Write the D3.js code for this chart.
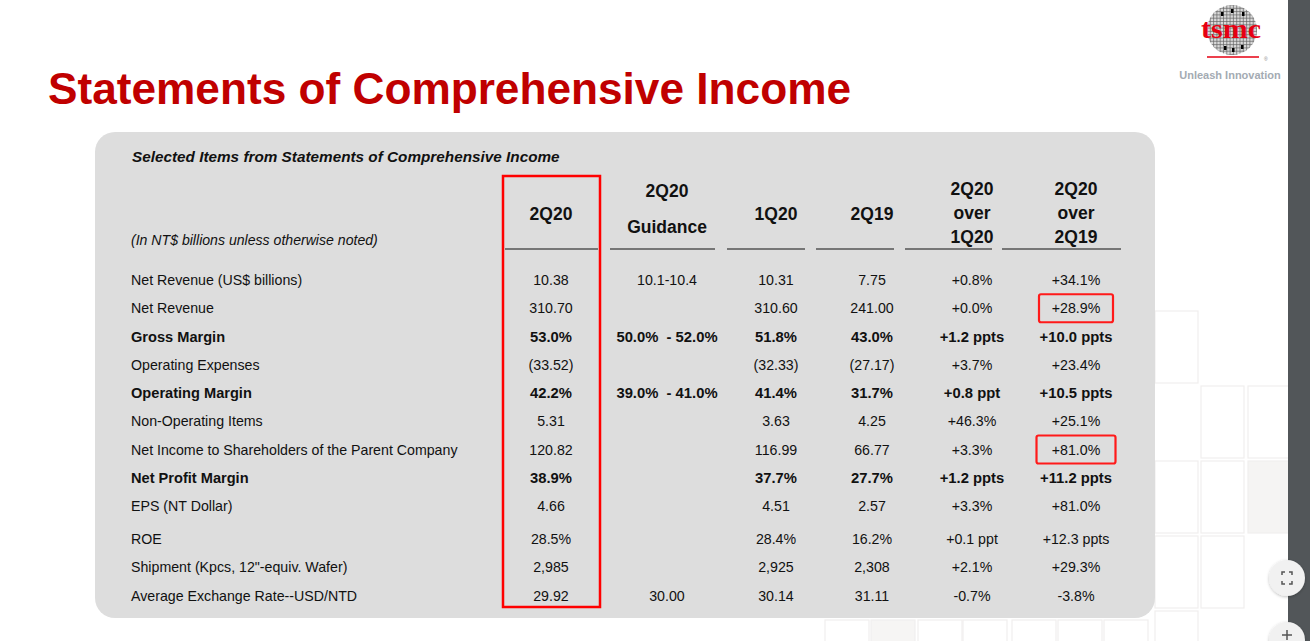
<!DOCTYPE html>
<html><head><meta charset="utf-8">
<script src="https://cdn.jsdelivr.net/npm/d3@7/dist/d3.min.js"></script>
<style>html,body{margin:0;padding:0;background:#fff;overflow:hidden}svg{display:block}</style>
</head><body>
<script>
// ---------- data ----------
const title = "Statements of Comprehensive Income";
const subtitle = "Selected Items from Statements of Comprehensive Income";
const unitNote = "(In NT$ billions unless otherwise noted)";
const columns = ["2Q20", "2Q20 Guidance", "1Q20", "2Q19", "2Q20 over 1Q20", "2Q20 over 2Q19"];
const rowLabels = ["Net Revenue (US$ billions)", "Net Revenue", "Gross Margin", "Operating Expenses",
  "Operating Margin", "Non-Operating Items", "Net Income to Shareholders of the Parent Company",
  "Net Profit Margin", "EPS (NT Dollar)", "ROE", "Shipment (Kpcs, 12\"-equiv. Wafer)",
  "Average Exchange Rate--USD/NTD"];
const boldRows = ["Gross Margin", "Operating Margin", "Net Profit Margin"];
const v2Q20 = ["10.38", "310.70", "53.0%", "(33.52)", "42.2%", "5.31", "120.82", "38.9%", "4.66", "28.5%", "2,985", "29.92"];
const vGuidance = ["10.1-10.4", "", "50.0%  - 52.0%", "", "39.0%  - 41.0%", "", "", "", "", "", "", "30.00"];
const v1Q20 = ["10.31", "310.60", "51.8%", "(32.33)", "41.4%", "3.63", "116.99", "37.7%", "4.51", "28.4%", "2,925", "30.14"];
const v2Q19 = ["7.75", "241.00", "43.0%", "(27.17)", "31.7%", "4.25", "66.77", "27.7%", "2.57", "16.2%", "2,308", "31.11"];
const vQoQ = ["+0.8%", "+0.0%", "+1.2 ppts", "+3.7%", "+0.8 ppt", "+46.3%", "+3.3%", "+1.2 ppts", "+3.3%", "+0.1 ppt", "+2.1%", "-0.7%"];
const vYoY = ["+34.1%", "+28.9%", "+10.0 ppts", "+23.4%", "+10.5 ppts", "+25.1%", "+81.0%", "+11.2 ppts", "+81.0%", "+12.3 ppts", "+29.3%", "-3.8%"];
const highlightedYoY = ["Net Revenue", "Net Income to Shareholders of the Parent Company"];
const headerLines = [["2Q20"], ["2Q20", "Guidance"], ["1Q20"], ["2Q19"], ["2Q20", "over", "1Q20"], ["2Q20", "over", "2Q19"]];
const seriesValues = [v2Q20, vGuidance, v1Q20, v2Q19, vQoQ, vYoY];

// ---------- layout ----------
const W = 1310, H = 641;
const FONT = "'Liberation Sans', Arial, sans-serif";
const RED = "#c00000";
const svg = d3.select("body").append("svg").attr("width", W).attr("height", H);
const defs = svg.append("defs");

// decorative faint squares in background
const deco = svg.append("g").attr("fill", "none").attr("stroke", "#f1efee").attr("stroke-width", 1.2);
const sqCols = [1155, 1201, 1248];
const sqRows = [311, 386, 461, 536, 611];
[[0,0],[1,1],[2,1],[0,2],[1,2],[2,2],[0,3],[1,3],[0,4]].forEach(([c,r]) => {
  deco.append("rect").attr("x", sqCols[c]).attr("y", sqRows[r]).attr("width", c===2?42:43).attr("height", 72)
    .attr("fill", (c===2&&r===2) ? "#f5f4f3" : "none");
});
[825, 871, 918, 963, 1012, 1058, 1104].forEach((x,i) => {
  deco.append("rect").attr("x", x).attr("y", 620).attr("width", 44).attr("height", 30)
   .attr("fill", i===1 ? "#f6f5f4" : "none");
});

// right dark strip (viewer)
svg.append("rect").attr("x", 1288).attr("y", 0).attr("width", 22).attr("height", H).attr("fill", "#525659");

// title
svg.append("text").attr("x", 48).attr("y", 104).attr("fill", RED)
  .attr("font-family", FONT).attr("font-weight", "bold").attr("font-size", 45)
  .attr("textLength", 803).attr("lengthAdjust", "spacingAndGlyphs").text(title);

// logo
const logo = svg.append("g");
defs.append("clipPath").attr("id", "wafer").append("circle").attr("cx", 1232).attr("cy", 30).attr("r", 25);
const lg = logo.append("g").attr("clip-path", "url(#wafer)");
lg.append("circle").attr("cx", 1232).attr("cy", 30).attr("r", 25).attr("fill", "#d9d9d9");
d3.range(1207, 1258, 3.3).forEach(x => lg.append("line").attr("x1", x).attr("x2", x).attr("y1", 4).attr("y2", 56).attr("stroke", "#666").attr("stroke-width", 0.7));
d3.range(5, 56, 3.3).forEach(y => lg.append("line").attr("x1", 1206).attr("x2", 1258).attr("y1", y).attr("y2", y).attr("stroke", "#666").attr("stroke-width", 0.7));
[[1231,9],[1221,12],[1242,12],[1224,46],[1232,48],[1241,45]].forEach(([x,y]) => lg.append("rect").attr("x", x).attr("y", y).attr("width", 2.5).attr("height", 4).attr("fill", "#000"));
logo.append("text").attr("x", 1231).attr("y", 38).attr("text-anchor", "middle").attr("fill", "#e60012")
  .attr("font-family", "'Liberation Serif', serif").attr("font-weight", "bold").attr("font-size", 28)
  .attr("textLength", 60).attr("lengthAdjust", "spacingAndGlyphs").text("tsmc");
logo.append("line").attr("x1", 1207).attr("x2", 1259).attr("y1", 57).attr("y2", 57).attr("stroke", "#e60012").attr("stroke-width", 1.6);
logo.append("text").attr("x", 1264).attr("y", 61).attr("font-size", 5).attr("fill", "#888").attr("font-family", FONT).text("®");
logo.append("text").attr("x", 1230).attr("y", 79).attr("text-anchor", "middle").attr("fill", "#a4abb3")
  .attr("font-family", FONT).attr("font-weight", "bold").attr("font-size", 11).text("Unleash Innovation");

// panel
svg.append("rect").attr("x", 95).attr("y", 132).attr("width", 1060).attr("height", 486).attr("rx", 20).attr("ry", 20).attr("fill", "#dddddd");

svg.append("text").attr("x", 132).attr("y", 162).attr("font-family", FONT).attr("font-weight", "bold").attr("font-style", "italic")
  .attr("font-size", 15.3).attr("fill", "#111").text(subtitle);
svg.append("text").attr("x", 131).attr("y", 245).attr("font-family", FONT).attr("font-style", "italic")
  .attr("font-size", 14.1).attr("fill", "#111").text(unitNote);

// scales
const x = d3.scaleOrdinal().domain(columns).range([551, 667, 776, 872, 972, 1076]);
const ruleSpan = d3.scaleOrdinal().domain(columns).range([[505, 598], [610, 715], [727, 805], [816, 894], [905, 992], [1002, 1121]]);
const yBase = d3.scaleLinear().domain([0, 8]).range([280, 506]);
const y = i => yBase(i) + (i >= 9 ? 4.75 : 0);

// header
const hdr = svg.append("g").attr("font-family", FONT).attr("font-weight", "bold").attr("font-size", 17.5).attr("fill", "#111").attr("text-anchor", "middle");
columns.forEach((c, ci) => {
  const lines = headerLines[ci];
  const ys = lines.length === 1 ? [214] : lines.length === 2 ? [191, 227] : [189, 213, 237];
  lines.forEach((t, li) => hdr.append("text").attr("x", x(c)).attr("y", ys[li]).attr("dy", "0.36em").text(t));
  const [a, b] = ruleSpan(c);
  svg.append("line").attr("x1", a).attr("x2", b).attr("y1", 249).attr("y2", 249).attr("stroke", "#111").attr("stroke-width", 1.2);
});

// rows
const body = svg.append("g").attr("font-family", FONT).attr("font-size", 14.2).attr("fill", "#111");
rowLabels.forEach((lab, i) => {
  const bold = boldRows.includes(lab);
  body.append("text").attr("x", 131).attr("y", y(i)).attr("dy", "0.36em").attr("font-weight", bold ? "bold" : null)
    .attr("font-size", bold ? 14.6 : null).text(lab);
  columns.forEach((c, ci) => {
    const v = seriesValues[ci][i];
    if (!v) return;
    body.append("text").attr("x", x(c)).attr("y", y(i)).attr("dy", "0.36em").attr("text-anchor", "middle")
      .attr("font-weight", bold ? "bold" : null).attr("font-size", bold ? 14.8 : null)
      .style("white-space", "pre").text(v);
  });
  if (highlightedYoY.includes(lab)) {
    const w = lab === "Net Revenue" ? 74 : 79;
    svg.append("rect").attr("x", x(columns[5]) - w / 2).attr("y", y(i) - 14).attr("width", w).attr("height", 28)
      .attr("rx", 2).attr("fill", "none").attr("stroke", "#ff1a1a").attr("stroke-width", 2.2);
  }
});

// red box around 2Q20 column
svg.append("rect").attr("x", 503).attr("y", 176).attr("width", 97).attr("height", 431)
  .attr("fill", "none").attr("stroke", "#ff0000").attr("stroke-width", 2.5);

// viewer buttons
const sh = defs.append("filter").attr("id", "sh").attr("x", "-50%").attr("y", "-50%").attr("width", "200%").attr("height", "200%");
sh.append("feDropShadow").attr("dx", 0).attr("dy", 1).attr("stdDeviation", 1.5).attr("flood-color", "#000").attr("flood-opacity", 0.25);
[[1287, 578], [1287, 640]].forEach(([cx, cy]) => svg.append("circle").attr("cx", cx).attr("cy", cy).attr("r", 18).attr("fill", "#f1f1f1").attr("filter", "url(#sh)"));
const ic = svg.append("g").attr("stroke", "#555").attr("stroke-width", 1.5).attr("fill", "none");
ic.append("path").attr("d", "M1282,575 v-3 h3 M1289,572 h3 v3 M1292,581 v3 h-3 M1285,584 h-3 v-3");
ic.append("path").attr("d", "M1287,630 v10 M1282,635 h10");
</script>
</body></html>
